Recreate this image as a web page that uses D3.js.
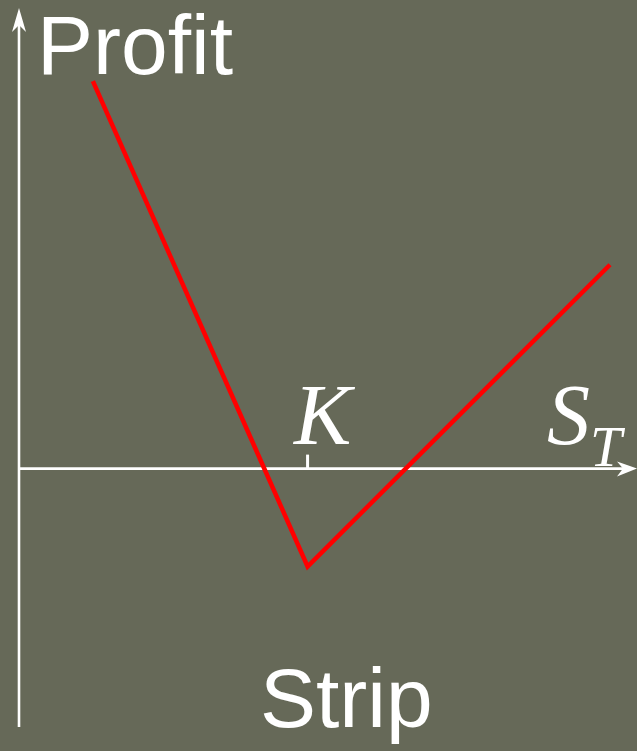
<!DOCTYPE html>
<html>
<head>
<meta charset="utf-8">
<script src="https://cdn.jsdelivr.net/npm/d3@7"></script>
<style>
  html, body { margin: 0; padding: 0; background: #666958; }
  svg { display: block; }
</style>
</head>
<body>
<svg id="chart" width="637" height="751"></svg>
<script>
// Strip payoff: one call + two puts at the same strike K
const strike = 100;
const stockPrices = [25.6, 100, 204.8];   // S_T at the kinks / ends
const profits = [134.2, -33.9, 70.6];     // profit at those S_T

const xLabel = "S";
const xSub = "T";
const yLabel = "Profit";
const strikeLabel = "K";
const title = "Strip";

const W = 637, H = 751;
const svg = d3.select("#chart");

const x = d3.scaleLinear().domain([0, 214.5]).range([19, 638]);
const y = d3.scaleLinear().domain([-89.5, 158.5]).range([727, 11]);

const white = "#ffffff";
const axisW = 2.6;

// horizontal axis (S_T)
svg.append("line")
  .attr("x1", x(0)).attr("x2", x(214.5) - 6)
  .attr("y1", y(0)).attr("y2", y(0))
  .attr("stroke", white).attr("stroke-width", axisW);
const xt = x(214.5) - 1, y0 = y(0);
svg.append("path")
  .attr("d", `M${xt},${y0} L${xt - 20},${y0 - 7} L${xt - 14},${y0} L${xt - 20},${y0 + 8} Z`)
  .attr("fill", white);

// vertical axis (Profit)
svg.append("line")
  .attr("x1", x(0)).attr("x2", x(0))
  .attr("y1", y(-89.5)).attr("y2", y(158.5) + 6)
  .attr("stroke", white).attr("stroke-width", axisW);
const yt = y(158.5) - 3, x0 = x(0);
svg.append("path")
  .attr("d", `M${x0},${yt} L${x0 - 7},${yt + 24} L${x0},${yt + 17} L${x0 + 7},${yt + 24} Z`)
  .attr("fill", white);

// strike tick
svg.append("line")
  .attr("x1", x(strike)).attr("x2", x(strike))
  .attr("y1", y(0) - 14).attr("y2", y(0))
  .attr("stroke", white).attr("stroke-width", 3);

// payoff line
const pts = stockPrices.map((s, i) => [s, profits[i]]);
svg.append("path")
  .datum(pts)
  .attr("d", d3.line().x(d => x(d[0])).y(d => y(d[1])))
  .attr("fill", "none")
  .attr("stroke", "#ff0000")
  .attr("stroke-width", 4.5)
  .attr("stroke-linejoin", "miter");

// labels
const sans = "'Liberation Sans', Arial, sans-serif";
const serif = "'Liberation Serif', 'Times New Roman', serif";

svg.append("text")
  .attr("x", 37).attr("y", 74)
  .attr("font-family", sans).attr("font-size", 84)
  .attr("fill", white).text(yLabel);

svg.append("text")
  .attr("x", 260).attr("y", 727)
  .attr("font-family", sans).attr("font-size", 84)
  .attr("fill", white).text(title);

svg.append("text")
  .attr("x", x(strike) + 15).attr("y", 444)
  .attr("text-anchor", "middle")
  .attr("font-family", serif).attr("font-style", "italic").attr("font-size", 86)
  .attr("fill", white).text(strikeLabel);

const st = svg.append("text")
  .attr("x", 547).attr("y", 444)
  .attr("font-family", serif).attr("font-style", "italic").attr("font-size", 86)
  .attr("fill", white);
st.append("tspan").text(xLabel);
st.append("tspan").attr("x", 590).attr("y", 466).attr("font-size", 57).text(xSub);
</script>
</body>
</html>
